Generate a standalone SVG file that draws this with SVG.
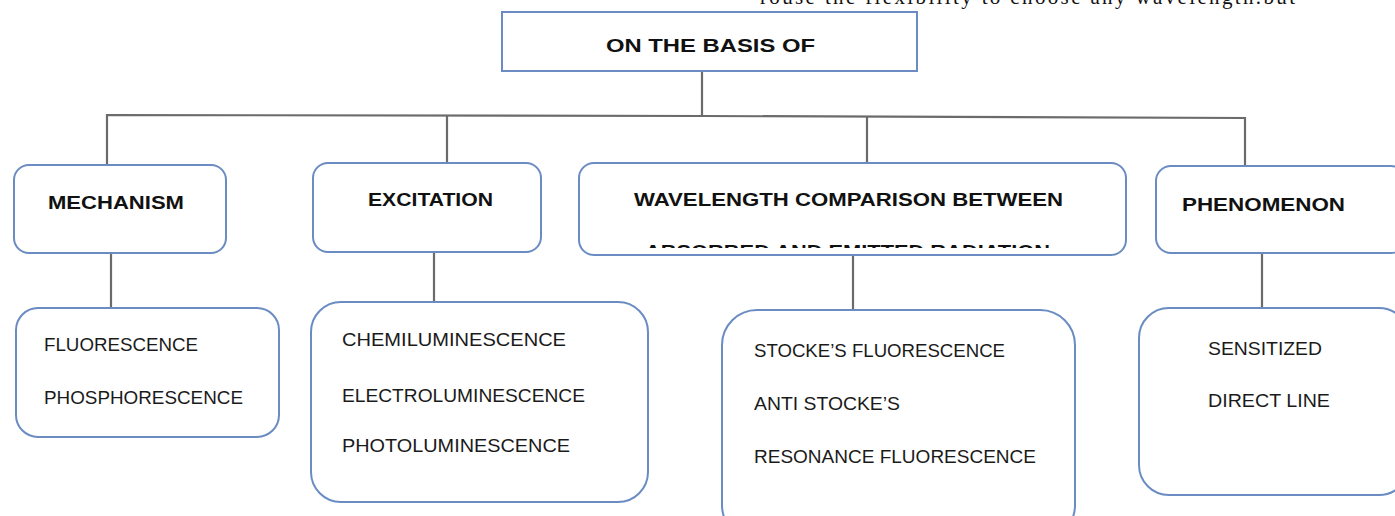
<svg xmlns="http://www.w3.org/2000/svg" width="1395" height="516" viewBox="0 0 1395 516">
<style>
.box{fill:#fff;stroke:#6a8cc3;stroke-width:2}
.con{fill:none;stroke:#6b6b6b;stroke-width:2.2}
.h{font-family:"Liberation Sans",Arial,sans-serif;font-weight:bold;font-size:19px;fill:#111}
.t{font-family:"Liberation Sans",Arial,sans-serif;font-size:18px;fill:#1a1a1a}
.s{font-family:"Liberation Serif","Times New Roman",serif;font-size:21px;fill:#111}
</style>
<defs>
<clipPath id="wclip"><rect x="580" y="164" width="545" height="84"/></clipPath>
</defs>
<text class="s" x="760" y="4" textLength="535" lengthAdjust="spacing">rouse the flexibility to choose any wavelength.but</text>
<g id="connectors">
<line class="con" x1="702" y1="71" x2="702" y2="115"/>
<polyline class="con" points="107,165 107,115 702,116 1245,118 1245,166"/>
<line class="con" x1="447" y1="116" x2="447" y2="163"/>
<line class="con" x1="867" y1="117" x2="867" y2="163"/>
<line class="con" x1="111" y1="253" x2="111" y2="308"/>
<line class="con" x1="434" y1="252" x2="434" y2="302"/>
<line class="con" x1="853" y1="255" x2="853" y2="310"/>
<line class="con" x1="1262" y1="253" x2="1262" y2="308"/>
</g>
<g id="root">
<rect class="box" x="502" y="12" width="415" height="59"/>
<text class="h" x="606" y="52" textLength="209" lengthAdjust="spacingAndGlyphs">ON THE BASIS OF</text>
</g>
<g id="mechanism">
<rect class="box" x="14" y="165" width="212" height="88" rx="15"/>
<text class="h" x="48" y="209" textLength="136" lengthAdjust="spacingAndGlyphs">MECHANISM</text>
</g>
<g id="excitation">
<rect class="box" x="313" y="163" width="228" height="89" rx="15"/>
<text class="h" x="368" y="206" textLength="125" lengthAdjust="spacingAndGlyphs">EXCITATION</text>
</g>
<g id="wavelength">
<rect class="box" x="579" y="163" width="547" height="92" rx="15"/>
<text class="h" x="634" y="206" textLength="429" lengthAdjust="spacingAndGlyphs">WAVELENGTH  COMPARISON  BETWEEN</text>
<text class="h" x="645" y="258" textLength="405" lengthAdjust="spacingAndGlyphs" clip-path="url(#wclip)">ABSORBED  AND EMITTED  RADIATION</text>
</g>
<g id="phenomenon">
<rect class="box" x="1156" y="166" width="250" height="87" rx="15"/>
<text class="h" x="1182" y="211" textLength="163" lengthAdjust="spacingAndGlyphs">PHENOMENON</text>
</g>
<g id="mechanism-types">
<rect class="box" x="16" y="308" width="263" height="129" rx="22"/>
<text class="t" x="44" y="351" textLength="154" lengthAdjust="spacingAndGlyphs">FLUORESCENCE</text>
<text class="t" x="44" y="404" textLength="199" lengthAdjust="spacingAndGlyphs">PHOSPHORESCENCE</text>
</g>
<g id="excitation-types">
<rect class="box" x="311" y="302" width="337" height="200" rx="30"/>
<text class="t" x="342" y="346" textLength="224" lengthAdjust="spacingAndGlyphs">CHEMILUMINESCENCE</text>
<text class="t" x="342" y="402" textLength="243" lengthAdjust="spacingAndGlyphs">ELECTROLUMINESCENCE</text>
<text class="t" x="342" y="452" textLength="228" lengthAdjust="spacingAndGlyphs">PHOTOLUMINESCENCE</text>
</g>
<g id="wavelength-types">
<rect class="box" x="722" y="310" width="353" height="230" rx="35"/>
<text class="t" x="754" y="357" textLength="251" lengthAdjust="spacingAndGlyphs">STOCKE’S FLUORESCENCE</text>
<text class="t" x="754" y="410" textLength="146" lengthAdjust="spacingAndGlyphs">ANTI STOCKE’S</text>
<text class="t" x="754" y="463" textLength="282" lengthAdjust="spacingAndGlyphs">RESONANCE FLUORESCENCE</text>
</g>
<g id="phenomenon-types">
<rect class="box" x="1139" y="308" width="270" height="187" rx="30"/>
<text class="t" x="1208" y="355" textLength="114" lengthAdjust="spacingAndGlyphs">SENSITIZED</text>
<text class="t" x="1208" y="407" textLength="122" lengthAdjust="spacingAndGlyphs">DIRECT LINE</text>
</g>
</svg>
